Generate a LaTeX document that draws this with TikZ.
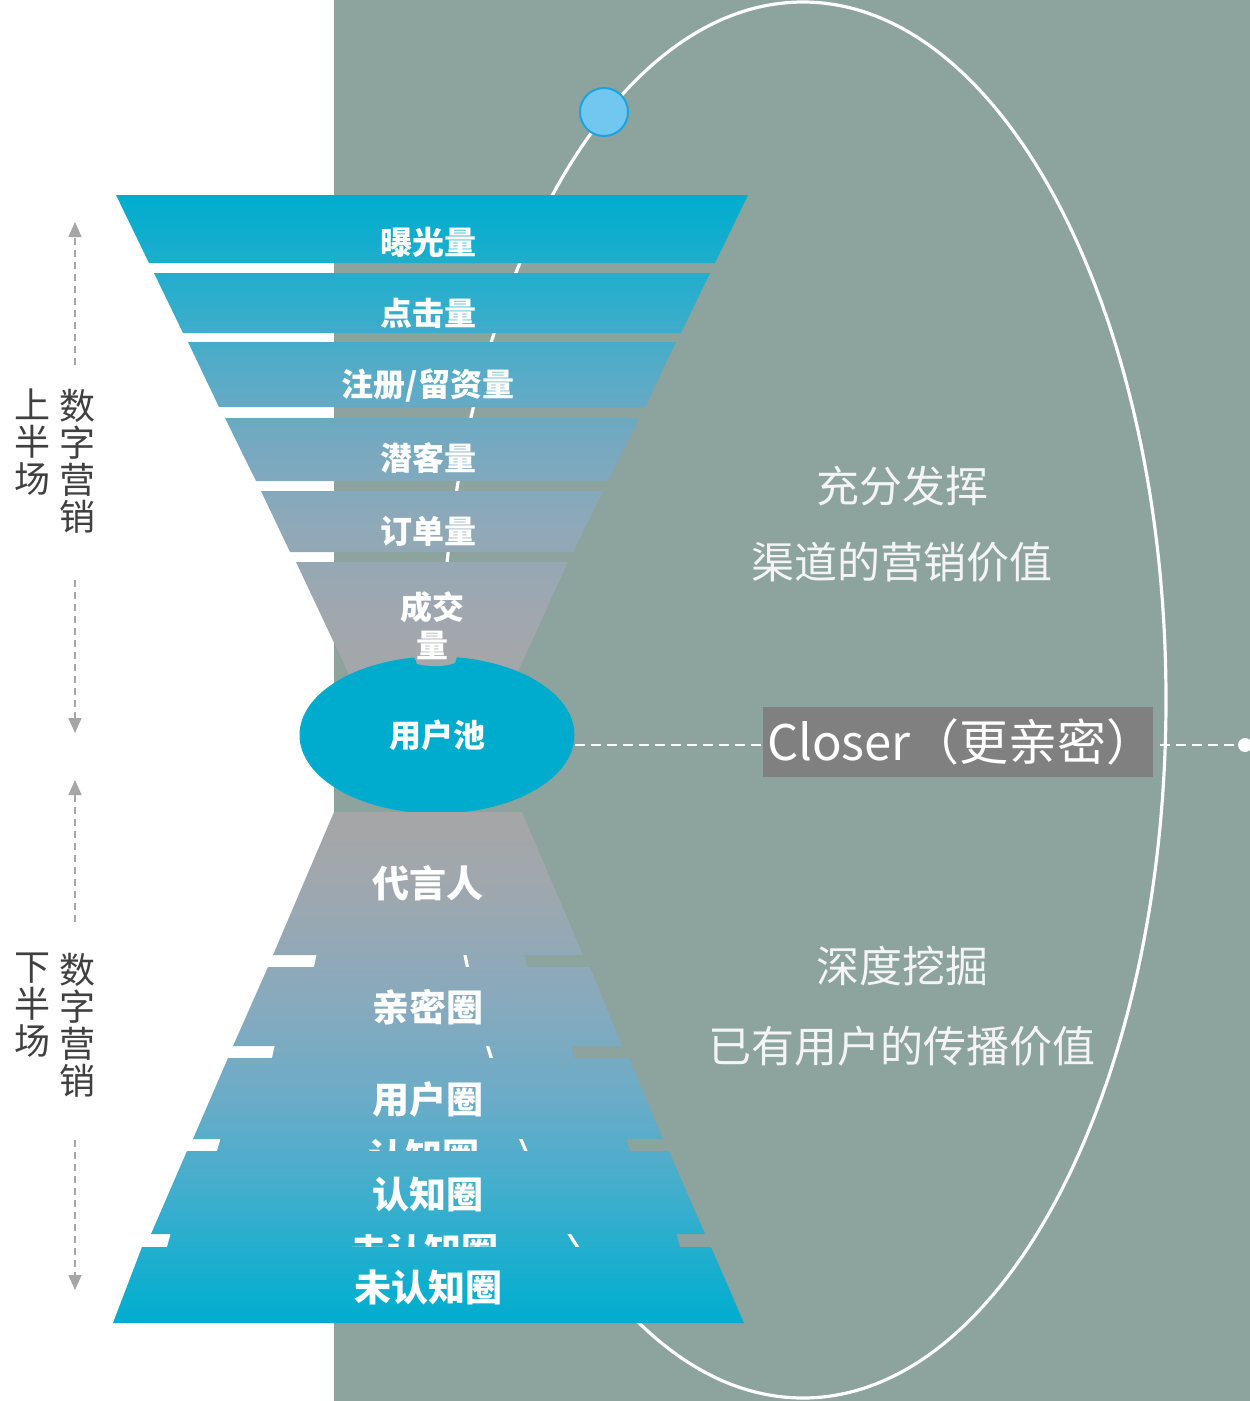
\documentclass[tikz,border=0pt]{standalone}
\usepackage{fontspec}
\setmainfont{Noto Sans CJK SC}
\usetikzlibrary{shapes.geometric,arrows.meta,calc}
\definecolor{bgsage}{HTML}{8CA39E}
\definecolor{fcyan}{HTML}{00ADCF}
\definecolor{fgray}{HTML}{A6A6A6}
\definecolor{ua}{HTML}{2DAECC}
\definecolor{ub}{HTML}{58ABC7}
\definecolor{uc}{HTML}{77A9C0}
\definecolor{ud}{HTML}{8DA9B9}
\definecolor{ue}{HTML}{A1A7AE}
\definecolor{la}{HTML}{A0A7AD}
\definecolor{lb}{HTML}{86AABE}
\definecolor{lc}{HTML}{6AACC7}
\definecolor{ld}{HTML}{40AECD}
\definecolor{le}{HTML}{10AECF}
\definecolor{poolcyan}{HTML}{00ACCD}
\definecolor{closergray}{HTML}{808080}
\definecolor{dotblue}{HTML}{72C7F0}
\definecolor{dotedge}{HTML}{1CA3DF}
\definecolor{labelgray}{HTML}{404040}
\definecolor{arrowgray}{HTML}{A6A6A6}
\definecolor{softwhite}{HTML}{F4F4F4}
\pgfdeclareverticalshading{upperfunnel}{100bp}{color(0bp)=(fgray); color(25bp)=(fgray);
  color(32.9bp)=(ue); color(42.8bp)=(ud); color(49.8bp)=(uc); color(57.2bp)=(ub);
  color(64.6bp)=(ua); color(75bp)=(fcyan); color(100bp)=(fcyan)}
\pgfdeclareverticalshading{lowerfunnel}{100bp}{color(0bp)=(fcyan); color(25bp)=(fcyan);
  color(28.7bp)=(le); color(37.7bp)=(ld); color(46.9bp)=(lc); color(55.9bp)=(lb);
  color(68.3bp)=(la); color(75bp)=(fgray); color(100bp)=(fgray)}
\begin{document}
\begin{tikzpicture}[x=1pt,y=-1pt,
  layertext/.style={text=white,font=\bfseries\fontsize{32}{38}\selectfont,inner sep=0pt,align=center},
  lowtext/.style={text=white,font=\bfseries\fontsize{37}{42}\selectfont,inner sep=0pt},
  sidetext/.style={text=softwhite,font=\fontsize{43}{48}\selectfont,inner sep=0pt},
  coltext/.style={text=labelgray,font=\fontsize{36}{37}\selectfont,align=center,inner sep=0pt,anchor=north},
  dashline/.style={white,line width=2pt,dash pattern=on 10pt off 6pt},
  sidearrow/.style={arrowgray,line width=1.5pt,dash pattern=on 7pt off 5pt,-{Triangle[width=13pt,length=15pt]}},
]
\useasboundingbox (0,0) rectangle (1250,1401);
\fill[white] (0,0) rectangle (1250,1401);
\fill[bgsage] (334,0) rectangle (1250,1401);

% ghost bands of the lower funnel
\begin{scope}
\clip (318,948) -- (523,948) -- (527,967) -- (314,967) -- cycle
      (276,1040) -- (570,1040) -- (574,1058) -- (272,1058) -- cycle
      (222,1134) -- (625,1134) -- (630,1151) -- (217,1151) -- cycle
      (172,1229) -- (675,1229) -- (680,1247) -- (167,1247) -- cycle;
\shade[shading=lowerfunnel] (100,812) rectangle (760,1323);
\end{scope}
\node[lowtext] (ghostR) at (424,1156) {认知圈};
\node[lowtext] (ghostW) at (424,1250) {未认知圈};

% orbit
\draw[white,line width=3.2pt] (803,700) ellipse [x radius=363pt,y radius=698pt];
\node[circle,fill=dotblue,draw=dotedge,line width=2pt,minimum size=48pt,inner sep=0pt] (orbitdot) at (604,112) {};

% upper funnel
\begin{scope}
\clip (116,195) -- (748,195) -- (715,263) -- (149,263) -- cycle
      (154,273) -- (710,273) -- (681,333) -- (183,333) -- cycle
      (188,342) -- (676,342) -- (645,407) -- (219,407) -- cycle
      (225,418) -- (639,418) -- (608,481) -- (256,481) -- cycle
      (261,491) -- (603,491) -- (573,552) -- (290,552) -- cycle
      (296,562) -- (568,562) -- (505,700) -- (361,700) -- cycle;
\shade[shading=upperfunnel] (100,195) rectangle (760,700);
\end{scope}

% user pool
\node[ellipse,fill=poolcyan,minimum width=275pt,minimum height=157pt,inner sep=0pt,
      text=white,font=\bfseries\fontsize{32}{36}\selectfont] (pool) at (437,735) {用户池};
\begin{scope}
\clip (412,650) -- (417,664) .. controls (430,667) and (445,667) .. (455,663) -- (459,650) -- cycle;
\shade[shading=upperfunnel] (100,195) rectangle (760,700);
\end{scope}

% lower funnel
\begin{scope}
\clip (334,812) -- (522,812) -- (583,955) -- (273,955) -- cycle
      (268,967) -- (590,967) -- (622,1046) -- (233,1046) -- cycle
      (228,1058) -- (629,1058) -- (663,1139) -- (193,1139) -- cycle
      (187,1151) -- (669,1151) -- (705,1234) -- (151,1234) -- cycle
      (142,1247) -- (711,1247) -- (744,1323) -- (113,1323) -- cycle;
\shade[shading=lowerfunnel] (100,812) rectangle (760,1323);
\end{scope}

% layer labels
\node[layertext] (l1) at (428,242) {曝光量};
\node[layertext] (l2) at (428,313) {点击量};
\node[layertext] (l3) at (428,386) {注册/留资量};
\node[layertext] (l4) at (428,458) {潜客量};
\node[layertext] (l5) at (428,531) {订单量};
\node[layertext] (l6) at (432,626) {成交\\量};
\node[lowtext] (d1) at (428,883) {代言人};
\node[lowtext] (d2) at (428,1007) {亲密圈};
\node[lowtext] (d3) at (428,1099) {用户圈};
\node[lowtext] (d4) at (428,1194) {认知圈};
\node[lowtext] (d5) at (428,1287) {未认知圈};

% right side texts
\node[sidetext] (rt1) at (902,486) {充分发挥};
\node[sidetext] (rt2) at (902,562) {渠道的营销价值};
\node[sidetext] (rt3) at (902,966) {深度挖掘};
\node[sidetext] (rt4) at (902,1046) {已有用户的传播价值};

% closer box and connectors
\node[fill=closergray,text=white,font=\fontsize{49}{56}\selectfont,minimum height=70pt,
      inner xsep=4pt,inner ysep=0pt,text width=382pt,align=left] (closer) at (958,742) {Closer（更亲密）};
\node[circle,fill=white,inner sep=0pt,minimum size=14pt] (enddot) at (1245,745) {};
\coordinate (cl) at ([yshift=-10pt]pool.east);
\draw[dashline] (cl) -- (cl -| closer.west);
\draw[dashline] ([xshift=7pt]cl -| closer.east) -- (enddot.center);

% left labels
\node[coltext] (upa) at (33,389) {上\\半\\场};
\node[coltext] (upb) at (77,389) {数\\字\\营\\销};
\node[coltext] (loa) at (33,953) {下\\半\\场};
\node[coltext] (lob) at (77,953) {数\\字\\营\\销};
\coordinate (u1s) at (75,365); \coordinate (u1t) at (75,222);
\coordinate (u2s) at (75,580); \coordinate (u2t) at (75,733);
\coordinate (d1s) at (75,922); \coordinate (d1t) at (75,780);
\coordinate (d2s) at (75,1140); \coordinate (d2t) at (75,1290);
\draw[sidearrow] (u1s) -- (u1t);
\draw[sidearrow] (u2s) -- (u2t);
\draw[sidearrow] (d1s) -- (d1t);
\draw[sidearrow] (d2s) -- (d2t);
\end{tikzpicture}
\end{document}
